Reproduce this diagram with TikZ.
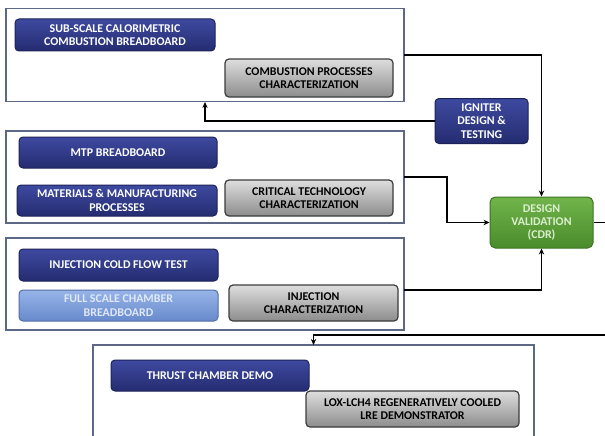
\documentclass[tikz,border=0pt]{standalone}
\usepackage{fontspec}
\setmainfont{Carlito}
\usetikzlibrary{arrows.meta}

\definecolor{frameline}{RGB}{92,104,134}
\definecolor{bluetop}{RGB}{62,74,160}
\definecolor{bluebot}{RGB}{36,44,112}
\definecolor{blueedge}{RGB}{28,34,88}
\definecolor{greytop}{RGB}{222,222,222}
\definecolor{greybot}{RGB}{140,140,140}
\definecolor{greyedge}{RGB}{60,60,60}
\definecolor{greentop}{RGB}{112,180,74}
\definecolor{greenbot}{RGB}{74,140,44}
\definecolor{greenedge}{RGB}{60,116,36}
\definecolor{greentext}{RGB}{220,238,206}
\definecolor{palebluetop}{RGB}{150,180,232}
\definecolor{palebluebot}{RGB}{104,138,204}
\definecolor{palebluetext}{RGB}{224,232,246}

\tikzset{every picture/.style={line width=0.75pt}}
\tikzset{
  lbl/.style={font=\fontsize{8.9}{10}\selectfont\bfseries, align=center, inner sep=0pt},
  frame/.style={draw=frameline, line width=0.8pt, fill=white, inner sep=0pt, outer sep=0pt},
  bluebox/.style={lbl, rounded corners=3pt, draw=blueedge, top color=bluetop, bottom color=bluebot, text=white},
  greybox/.style={lbl, rounded corners=3pt, draw=greyedge, line width=0.9pt, top color=greytop, bottom color=greybot, text=black},
  greenbox/.style={lbl, rounded corners=4pt, draw=greenedge, top color=greentop, bottom color=greenbot, text=greentext},
  palebox/.style={lbl, rounded corners=3pt, draw=palebluebot!80!black, top color=palebluetop, bottom color=palebluebot, text=palebluetext},
  conn/.style={draw=black, line width=1.3pt, -{Stealth[length=4.5pt,width=4pt]}},
  link/.style={draw=black, line width=1.3pt}
}

\begin{document}
\begin{tikzpicture}[x=0.75pt,y=0.75pt,yscale=-1,xscale=1]
\clip (0,0) rectangle (605,435);
\fill[white] (0,0) rectangle (605,435);

%Frame: calorimetric breadboard
\node[frame, minimum width=298.5pt, minimum height=69.75pt] (frame1) at (205,55) {};
\node[bluebox, minimum width=150pt, minimum height=24pt] (subscale) at (115,35) {SUB-SCALE CALORIMETRIC\\COMBUSTION BREADBOARD};
\node[greybox, minimum width=126pt, minimum height=28.5pt] (combproc) at (309,78) {COMBUSTION PROCESSES\\CHARACTERIZATION};

%Igniter
\node[bluebox, minimum width=69.75pt, minimum height=33.75pt] (igniter) at (481.5,121) {IGNITER\\DESIGN \&\\TESTING};

%Frame: MTP breadboard
\node[frame, minimum width=298.5pt, minimum height=69pt] (frame2) at (205,177) {};
\node[bluebox, minimum width=148.5pt, minimum height=23.25pt] (mtp) at (118,152.5) {MTP BREADBOARD};
\node[bluebox, minimum width=150pt, minimum height=23.25pt] (materials) at (117,200.5) {MATERIALS \& MANUFACTURING\\PROCESSES};
\node[greybox, minimum width=126pt, minimum height=27pt] (crittech) at (309,198) {CRITICAL TECHNOLOGY\\CHARACTERIZATION};

%Design validation
\node[greenbox, minimum width=77.25pt, minimum height=38.25pt] (dv) at (541.5,222.5) {DESIGN\\VALIDATION\\(CDR)};

%Frame: injection
\node[frame, minimum width=298.5pt, minimum height=69pt] (frame3) at (205,284) {};
\node[bluebox, minimum width=149.25pt, minimum height=24pt] (coldflow) at (118.5,265) {INJECTION COLD FLOW TEST};
\node[palebox, minimum width=149.25pt, minimum height=23.25pt] (fullscale) at (118.5,305.5) {FULL SCALE CHAMBER\\BREADBOARD};
\node[greybox, minimum width=126.75pt, minimum height=27pt] (injchar) at (313.5,303) {INJECTION\\CHARACTERIZATION};

%Frame: thrust chamber demo
\node[frame, minimum width=330.75pt, minimum height=78.75pt] (frame4) at (313.5,397.5) {};
\node[bluebox, minimum width=148.5pt, minimum height=23.25pt] (thrust) at (210,375.5) {THRUST CHAMBER DEMO};
\node[greybox, minimum width=159.75pt, minimum height=27pt] (lox) at (412.5,409) {LOX-LCH4 REGENERATIVELY COOLED\\LRE DEMONSTRATOR};

%Connectors
\coordinate (f1in) at (205,102);
\coordinate (dvout) at (606,222.5);
\coordinate (f4feed) at (606,335);
\draw[conn] (frame1.east) -| (dv.north);
\draw[conn] (igniter.west) -| (f1in);
\draw[conn] (frame2.east) -- ++(43,0) |- (dv.west);
\draw[conn] (frame3.east) ++(0,6) -| (dv.south);
\draw[link] (dv.east) -- (dvout);
\draw[conn] (f4feed) -| (frame4.north);

\end{tikzpicture}
\end{document}
